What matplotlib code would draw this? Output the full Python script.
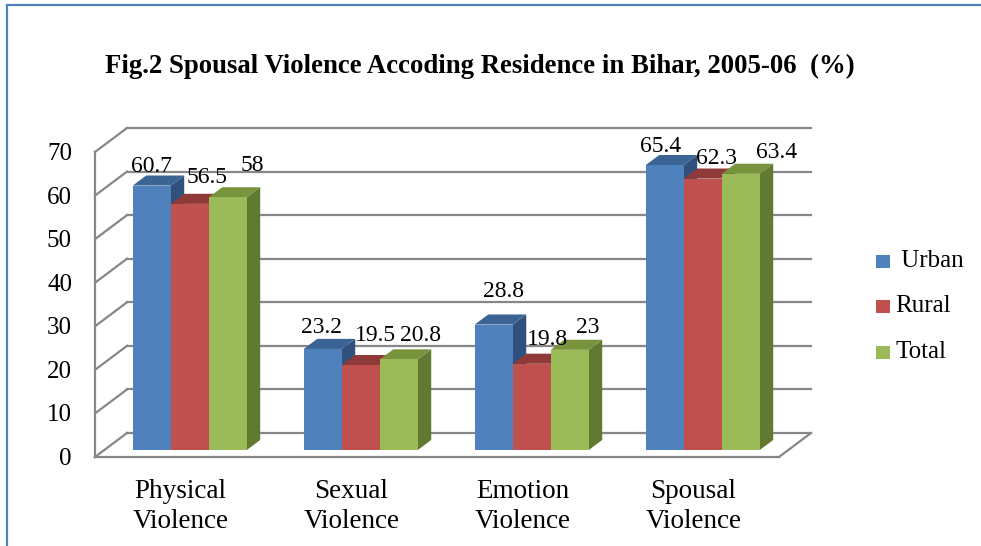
import matplotlib
matplotlib.use('Agg')
import matplotlib.pyplot as plt
import matplotlib.transforms as mtransforms
from matplotlib.patches import Polygon, Rectangle
from matplotlib.lines import Line2D

categories = ['Physical\nViolence', 'Sexual\nViolence', 'Emotion\nViolence', 'Spousal\nViolence']
series = [' Urban', 'Rural', 'Total']
urban = [60.7, 23.2, 28.8, 65.4]
rural = [56.5, 19.5, 19.8, 62.3]
total = [58, 20.8, 23, 63.4]
yticks = [0, 10, 20, 30, 40, 50, 60, 70]
title = 'Fig.2 Spousal Violence Accoding Residence in Bihar, 2005-06  (%)'

values = [urban, rural, total]

# face colours: front, top, side
front_c = ['#4F81BD', '#C0504D', '#9BBB59']
top_c = ['#3B6494', '#8F3A38', '#77933C']
side_c = ['#30507D', '#7A302E', '#617A31']
grid_c = '#878787'

# nudges of the value labels in pixels (Excel put them a bit all over)
lab_dx = [[0, -1, 10, -4], [17, 15, 16, 14], [25, 22, 18, 36]]
lab_dy = [[14, 16, 28, 13], [21, 24, 19, 15], [26, 18, 17, 16]]

W, H = 981, 546
plt.rcParams['font.family'] = ['Liberation Serif', 'DejaVu Serif']
fig = plt.figure(figsize=(W / 100, H / 100), dpi=100)
ax = fig.add_axes([95 / W, (H - 457) / H, 684 / W, 305 / H])
ax.axis('off')

DX, DY = 32, 24      # floor depth in pixels
T0, T1 = 0.29, 0.71  # bar front / back depth
bw = 0.2222


def shift(t, ox=0, oy=0):
    return ax.transData + mtransforms.Affine2D().translate(DX * t + ox, DY * t + oy)


def pt(x, y, t):
    px, py = ax.transData.transform((x, y))
    return (px + DX * t, py + DY * t)


ident = mtransforms.IdentityTransform()

ax.set_xlim(-0.5, 3.5)
ax.set_ylim(0, 70)

# back wall grid + side wall diagonals
for v in yticks:
    ax.plot([-0.5, 3.5], [v, v], transform=shift(1), color=grid_c, lw=1.6, clip_on=False, zorder=1)
    a, b = pt(-0.5, v, 0), pt(-0.5, v, 1)
    ax.add_line(Line2D([a[0], b[0]], [a[1], b[1]], transform=ident, color=grid_c, lw=1.6,
                       zorder=1, clip_on=False))
    ax.text(-0.5, v, str(v), transform=shift(0, -23, -2), ha='right', va='center', fontsize=18)

# front edge of side wall and floor
ax.plot([-0.5, -0.5], [0, 70], transform=shift(0), color=grid_c, lw=1.6, clip_on=False, zorder=1)
ax.plot([-0.5, 3.5], [0, 0], transform=shift(0), color=grid_c, lw=1.6, clip_on=False, zorder=1)
a, b = pt(3.5, 0, 0), pt(3.5, 0, 1)
ax.add_line(Line2D([a[0], b[0]], [a[1], b[1]], transform=ident, color=grid_c, lw=1.6,
                   zorder=1, clip_on=False))

# bars
for j, vals in enumerate(values):
    xs = [i + (j - 1) * bw for i in range(len(vals))]
    for x, v in zip(xs, vals):
        x0, x1 = x - bw / 2, x + bw / 2
        top = [pt(x0, v, T0), pt(x1, v, T0), pt(x1, v, T1), pt(x0, v, T1)]
        side = [pt(x1, 0, T0), pt(x1, v, T0), pt(x1, v, T1), pt(x1, 0, T1)]
        ax.add_patch(Polygon(side, closed=True, transform=ident, facecolor=side_c[j],
                             edgecolor='none', zorder=2 + 2 * j, clip_on=False))
        ax.add_patch(Polygon(top, closed=True, transform=ident, facecolor=top_c[j],
                             edgecolor='none', zorder=2 + 2 * j, clip_on=False))
    ax.bar(xs, vals, width=bw, color=front_c[j], transform=shift(T0), clip_on=False,
           zorder=3 + 2 * j)
    for i, (x, v) in enumerate(zip(xs, vals)):
        ax.text(x, v, f'{v:g}', transform=shift(T0, lab_dx[j][i], lab_dy[j][i]),
                ha='center', va='baseline', fontsize=17, zorder=10)

ax.set_xlim(-0.5, 3.5)
ax.set_ylim(0, 70)

# category labels
for i, c in enumerate(categories):
    ax.text(i, 0, c, transform=shift(0, 0, -22), ha='center', va='top', fontsize=19.5,
            linespacing=1.25)

# title
fig.text(479.5 / W, 1 - 73 / H, title, ha='center', va='baseline', fontsize=19.3, weight='bold')

# legend
for j, name in enumerate(series):
    cy = H - (261 + 45.5 * j)
    fig.add_artist(Rectangle((876, cy - 6.5), 14, 13, transform=ident, facecolor=front_c[j],
                             edgecolor='none'))
    fig.text(895, cy, name, transform=ident, ha='left', va='center', fontsize=18)

# page frame
fig.add_artist(Line2D([7, 7], [0, H - 5], transform=ident, color='#4F81BD', lw=1.6))
fig.add_artist(Line2D([7, W], [H - 5, H - 5], transform=ident, color='#4F81BD', lw=1.6))

fig.savefig('out.png', dpi=100)
